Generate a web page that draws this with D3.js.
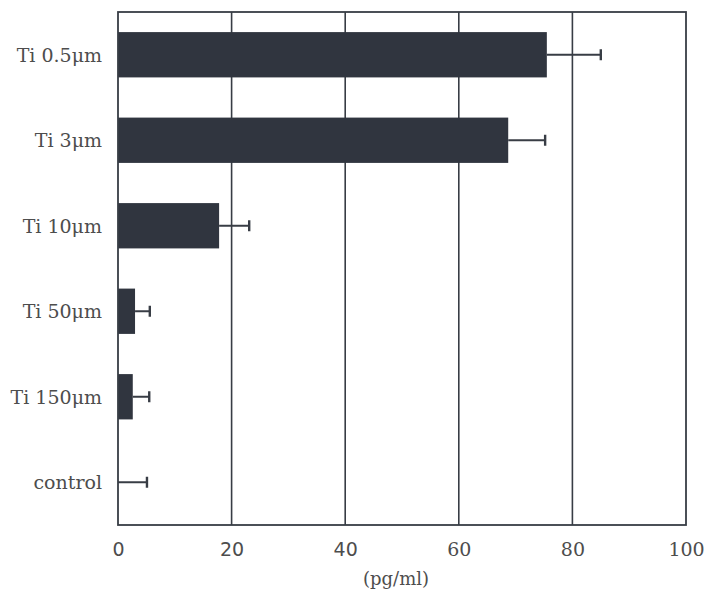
<!DOCTYPE html>
<html><head><meta charset="utf-8">
<script src="https://cdn.jsdelivr.net/npm/d3@7"></script>
<style>body{margin:0;background:#fff}</style>
</head><body>
<svg id="c" width="705" height="591"></svg>
<script>
const categories = ["Ti 0.5μm","Ti 3μm","Ti 10μm","Ti 50μm","Ti 150μm","control"];
const values = [75.5, 68.7, 17.8, 3.0, 2.6, 0];
const errors = [9.5, 6.5, 5.3, 2.6, 2.9, 5.1];
const xTicks = [0,20,40,60,80,100];
const xLabel = "(pg/ml)";

const L=118, R=686, T=12, B=525;
const svg = d3.select("#c");
const x = d3.scaleLinear().domain([0,100]).range([L,R]);
const y = d3.scaleBand().domain(categories).range([T,B]).paddingInner(0.47).paddingOuter(0.235);
const ink = "#383d45", barC = "#30353f", txt = "#4d4d4d";

// grid lines
svg.append("g").selectAll("line").data(xTicks.slice(1,-1)).join("line")
  .attr("x1",d=>x(d)).attr("x2",d=>x(d)).attr("y1",T).attr("y2",B)
  .attr("stroke",ink).attr("stroke-width",1.6);

// bars
svg.append("g").selectAll("rect").data(categories).join("rect")
  .attr("x",x(0)).attr("y",d=>y(d)).attr("height",y.bandwidth())
  .attr("width",(d,i)=>x(values[i])-x(0)).attr("fill",barC);

// error bars
const eb = svg.append("g").attr("stroke",ink).attr("stroke-width",2);
categories.forEach((c,i)=>{
  const cy = y(c)+y.bandwidth()/2;
  eb.append("line").attr("x1",x(values[i])).attr("x2",x(values[i]+errors[i])).attr("y1",cy).attr("y2",cy);
  eb.append("line").attr("x1",x(values[i]+errors[i])).attr("x2",x(values[i]+errors[i])).attr("y1",cy-5.5).attr("y2",cy+5.5).attr("stroke-width",2.4);
});

// frame
svg.append("rect").attr("x",L).attr("y",T).attr("width",R-L).attr("height",B-T)
  .attr("fill","none").attr("stroke",ink).attr("stroke-width",1.8);

// y labels
svg.append("g").selectAll("text").data(categories).join("text")
  .attr("x",102).attr("y",d=>y(d)+y.bandwidth()/2).attr("dy","0.36em")
  .attr("text-anchor","end").attr("font-family","DejaVu Serif").attr("font-size",19)
  .attr("fill",txt).text(d=>d);

// x axis labels
const xAxis = d3.axisBottom(x).tickValues(xTicks).tickSize(0).tickPadding(18);
const ga = svg.append("g").attr("transform",`translate(0,${B})`).call(xAxis);
ga.select(".domain").remove();
ga.selectAll("text").attr("font-size",19).attr("fill",txt)
  .attr("font-family",d=>d<60?"DejaVu Sans":"DejaVu Serif");

svg.append("text").attr("x",396).attr("y",585).attr("text-anchor","middle")
  .attr("font-family","DejaVu Serif").attr("font-size",18).attr("fill",txt).text(xLabel);
</script>
</body></html>
